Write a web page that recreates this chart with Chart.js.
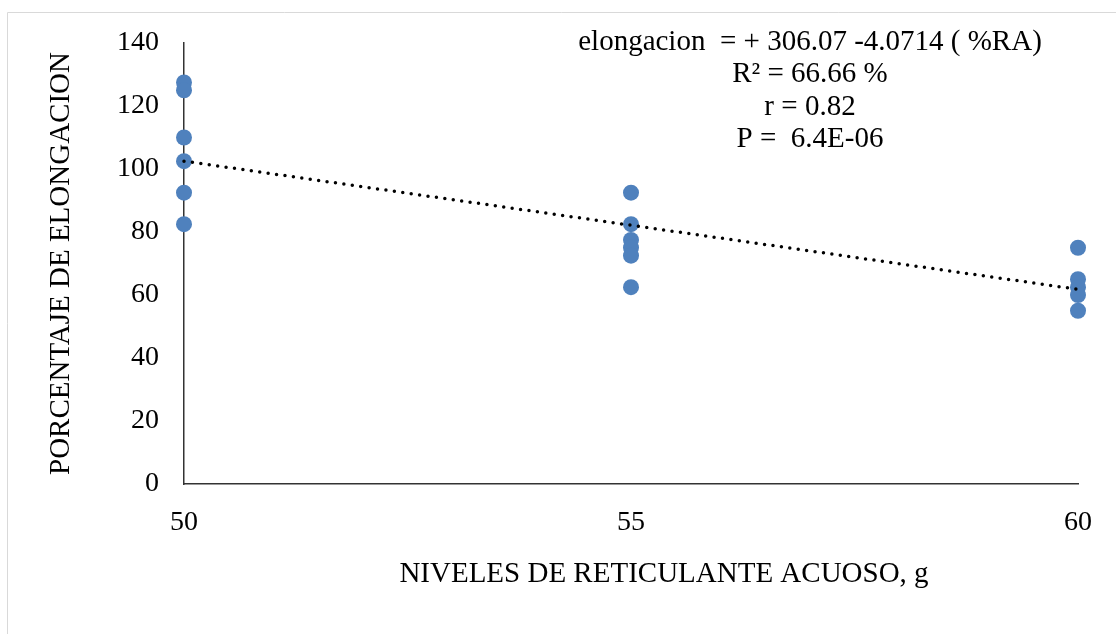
<!DOCTYPE html>
<html><head><meta charset="utf-8">
<script src="https://cdn.jsdelivr.net/npm/chart.js@4/dist/chart.umd.min.js"></script>
<style>html,body{margin:0;padding:0;background:#fff;} canvas{display:block;}</style>
</head><body><canvas id="c" width="1116" height="634"></canvas>
<script>
// ---- data ----
const xLevels = [50, 55, 60];
const elongAt50 = [127.5, 125, 110, 102.5, 92.5, 82.5];
const elongAt55 = [92.5, 82.5, 77.5, 75, 72.5, 62.5];
const elongAt60 = [75, 65, 62.5, 60, 55];
const trendIntercept = 306.07;
const trendSlope = -4.0714;
const xTicks = [50, 55, 60];
const yTicks = [0, 20, 40, 60, 80, 100, 120, 140];
const annotationLines = ['elongacion  = + 306.07 -4.0714 ( %RA)', 'R\u00b2 = 66.66 %', 'r = 0.82', 'P =  6.4E-06'];
const xTitle = 'NIVELES DE RETICULANTE ACUOSO, g';
const yTitle = 'PORCENTAJE DE ELONGACION';

const FONT = "'Liberation Serif', 'Times New Roman', serif";
const groups = [elongAt50, elongAt55, elongAt60];
const points = [];
groups.forEach((g, i) => g.forEach(v => points.push({x: xLevels[i], y: v})));
const xMin = xLevels[0], xMax = xLevels[xLevels.length - 1];
const trend = [
  {x: xMin, y: trendIntercept + trendSlope * xMin},
  {x: xMax, y: trendIntercept + trendSlope * xMax}
];

const extras = {
  id: 'extras',
  beforeDraw(chart) {
    const ctx = chart.ctx;
    ctx.save();
    ctx.strokeStyle = '#d9d9d9';
    ctx.lineWidth = 1;
    ctx.beginPath();
    ctx.moveTo(7.5, 634);
    ctx.lineTo(7.5, 12.5);
    ctx.lineTo(1116, 12.5);
    ctx.stroke();
    ctx.restore();
  },
  afterDraw(chart) {
    const ctx = chart.ctx;
    ctx.save();
    ctx.fillStyle = '#000';
    ctx.textAlign = 'center';
    ctx.textBaseline = 'alphabetic';
    ctx.font = '29px ' + FONT;
    ctx.fillText(xTitle, 664, 582);
    const baselines = [50, 82, 115, 147];
    annotationLines.forEach((t, i) => ctx.fillText(t, 810, baselines[i]));
    ctx.restore();
  }
};

new Chart(document.getElementById('c'), {
  type: 'scatter',
  data: {
    datasets: [
      {
        type: 'line',
        data: trend,
        borderColor: '#000',
        borderWidth: 3.5,
        borderDash: [0, 8.5],
        borderCapStyle: 'round',
        pointRadius: 0,
        fill: false,
        clip: false,
        order: 0
      },
      {
        data: points,
        backgroundColor: '#4f81bd',
        borderColor: '#4f81bd',
        borderWidth: 0,
        pointRadius: 8,
        pointHoverRadius: 8,
        clip: false,
        order: 1
      }
    ]
  },
  options: {
    responsive: false,
    animation: false,
    events: [],
    layout: {padding: {left: 0, right: 38, top: 43, bottom: 0}},
    plugins: {legend: {display: false}, tooltip: {enabled: false}},
    scales: {
      x: {
        type: 'linear',
        min: xMin, max: xMax,
        afterBuildTicks: s => { s.ticks = xTicks.map(v => ({value: v})); },
        afterFit: s => { s.height = 150; },
        grid: {display: false, drawTicks: false},
        border: {display: true, color: '#333', width: 1.5},
        ticks: {color: '#000', font: {family: FONT, size: 28}, padding: 22, maxRotation: 0}
      },
      y: {
        type: 'linear',
        min: 0, max: 140,
        afterBuildTicks: s => { s.ticks = yTicks.map(v => ({value: v})); },
        afterFit: s => { s.width = 184; },
        grid: {display: false, drawTicks: false},
        border: {display: true, color: '#333', width: 1.5},
        ticks: {color: '#000', font: {family: FONT, size: 28}, padding: 25},
        title: {display: true, text: yTitle, color: '#000', font: {family: FONT, size: 29}, padding: {top: 44, bottom: 0}}
      }
    }
  },
  plugins: [extras]
});
</script></body></html>
